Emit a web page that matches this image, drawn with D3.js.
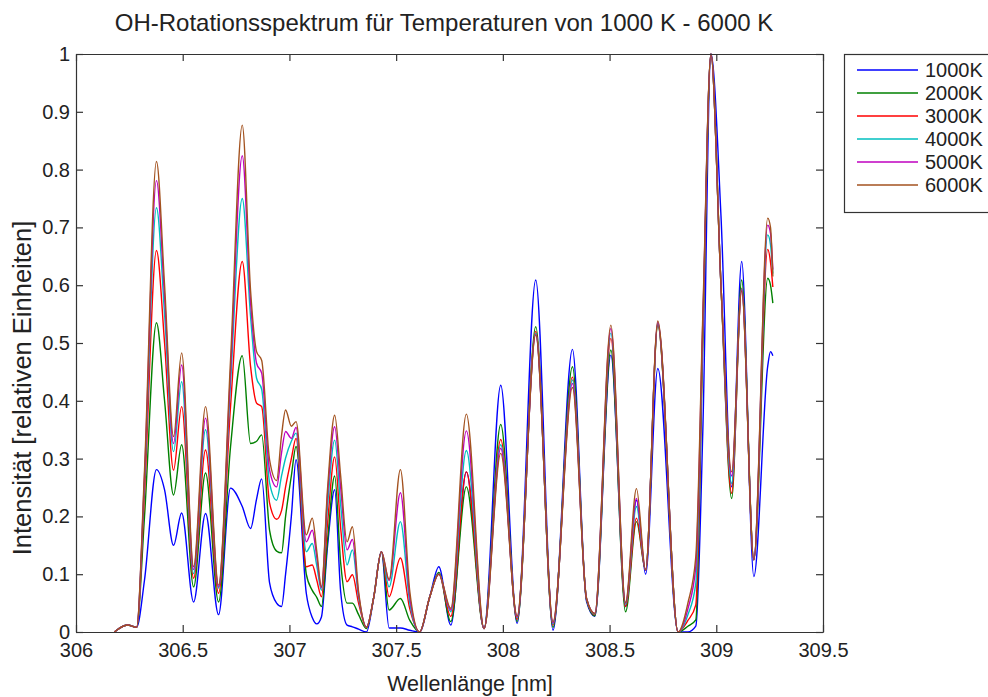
<!DOCTYPE html>
<html>
<head>
<meta charset="utf-8">
<script src="https://cdn.jsdelivr.net/npm/d3@7"></script>
<style>
  body { margin: 0; background: #fff; }
  text { font-family: "Liberation Sans", Arial, Helvetica, sans-serif; fill: #222; }
</style>
</head>
<body>
<div class="chart"></div>
<script>
// wavelength grid (nm) at peaks, valleys and flanks
var wavelengths = [306.180, 306.241, 306.284, 306.321, 306.377, 306.415, 306.457, 306.495, 306.551, 306.607,
  306.668, 306.724, 306.779, 306.818, 306.846, 306.870, 306.907, 306.940, 306.963, 306.982,
  307.009, 307.031, 307.079, 307.107, 307.128, 307.150, 307.179, 307.212, 307.240, 307.270,
  307.295, 307.324, 307.361, 307.395, 307.431, 307.467, 307.520, 307.564, 307.610, 307.657,
  307.700, 307.756, 307.829, 307.912, 307.990, 308.067, 308.154, 308.235, 308.326, 308.392,
  308.431, 308.506, 308.575, 308.626, 308.669, 308.726, 308.821, 308.867, 308.904, 308.937,
  308.975, 309.022, 309.072, 309.119, 309.176, 309.241, 309.254, 309.265];

var int1000 = [0, 0.012, 0.008, 0.09, 0.281, 0.246, 0.150, 0.206, 0.052, 0.205,
  0.030, 0.249, 0.217, 0.179, 0.23, 0.265, 0.085, 0.05, 0.044, 0.10,
  0.20, 0.298, 0.067, 0.025, 0.014, 0.026, 0.15, 0.246, 0.07, 0.012,
  0.009, 0.005, 0.0, 0.06, 0.139, 0.007, 0.007, 0.003, 0, 0.06,
  0.113, 0.012, 0.277, 0.006, 0.427, 0.015, 0.609, 0.003, 0.489, 0.053,
  0.027, 0.479, 0.044, 0.228, 0.100, 0.456, 0, 0, 0.01, 0.35,
  1, 0.72, 0.251, 0.641, 0.096, 0.46, 0.485, 0.478];

var int2000 = [0, 0.012, 0.008, 0.20, 0.535, 0.40, 0.237, 0.324, 0.078, 0.275,
  0.052, 0.32, 0.478, 0.326, 0.33, 0.341, 0.176, 0.14, 0.137, 0.20,
  0.27, 0.321, 0.10, 0.072, 0.06, 0.044, 0.16, 0.270, 0.12, 0.050,
  0.050, 0.03, 0.006, 0.06, 0.139, 0.038, 0.058, 0.02, 0, 0.06,
  0.103, 0.018, 0.251, 0.006, 0.359, 0.018, 0.528, 0.008, 0.459, 0.056,
  0.028, 0.488, 0.035, 0.191, 0.107, 0.530, 0, 0.01, 0.021, 0.50,
  1, 0.60, 0.231, 0.609, 0.125, 0.612, 0.60, 0.569];

var int3000 = [0, 0.012, 0.008, 0.24, 0.660, 0.50, 0.280, 0.390, 0.093, 0.315,
  0.067, 0.39, 0.641, 0.459, 0.396, 0.39, 0.223, 0.195, 0.21, 0.251,
  0.30, 0.335, 0.113, 0.116, 0.09, 0.061, 0.19, 0.303, 0.18, 0.087,
  0.099, 0.05, 0.008, 0.06, 0.139, 0.061, 0.128, 0.04, 0, 0.06,
  0.101, 0.027, 0.277, 0.006, 0.333, 0.022, 0.520, 0.012, 0.441, 0.058,
  0.030, 0.508, 0.044, 0.197, 0.107, 0.532, 0, 0.02, 0.047, 0.52,
  1, 0.60, 0.240, 0.595, 0.125, 0.662, 0.64, 0.597];

var int4000 = [0, 0.012, 0.008, 0.26, 0.734, 0.55, 0.312, 0.433, 0.101, 0.350,
  0.076, 0.43, 0.750, 0.545, 0.439, 0.42, 0.258, 0.228, 0.27, 0.301,
  0.33, 0.344, 0.139, 0.153, 0.115, 0.072, 0.22, 0.332, 0.22, 0.116,
  0.142, 0.06, 0.008, 0.06, 0.139, 0.078, 0.191, 0.05, 0, 0.06,
  0.101, 0.035, 0.314, 0.006, 0.324, 0.025, 0.517, 0.014, 0.436, 0.058,
  0.031, 0.517, 0.048, 0.217, 0.107, 0.534, 0, 0.03, 0.084, 0.53,
  1, 0.60, 0.257, 0.594, 0.125, 0.687, 0.67, 0.62];

var int5000 = [0, 0.012, 0.008, 0.27, 0.781, 0.58, 0.326, 0.462, 0.108, 0.370,
  0.078, 0.45, 0.824, 0.57, 0.465, 0.448, 0.28, 0.251, 0.31, 0.347,
  0.335, 0.354, 0.156, 0.176, 0.13, 0.076, 0.24, 0.355, 0.25, 0.142,
  0.160, 0.065, 0.008, 0.06, 0.139, 0.089, 0.241, 0.06, 0, 0.06,
  0.100, 0.038, 0.348, 0.006, 0.318, 0.026, 0.515, 0.016, 0.430, 0.058,
  0.032, 0.525, 0.050, 0.231, 0.107, 0.536, 0, 0.04, 0.113, 0.54,
  1, 0.60, 0.270, 0.592, 0.125, 0.704, 0.69, 0.627];

var int6000 = [0, 0.012, 0.008, 0.28, 0.814, 0.60, 0.338, 0.483, 0.113, 0.390,
  0.081, 0.47, 0.877, 0.59, 0.485, 0.47, 0.298, 0.262, 0.34, 0.384,
  0.356, 0.364, 0.168, 0.197, 0.14, 0.078, 0.25, 0.375, 0.27, 0.156,
  0.182, 0.07, 0.008, 0.06, 0.139, 0.091, 0.281, 0.07, 0, 0.06,
  0.100, 0.041, 0.377, 0.006, 0.309, 0.028, 0.514, 0.018, 0.423, 0.058,
  0.032, 0.531, 0.051, 0.248, 0.107, 0.538, 0, 0.05, 0.130, 0.55,
  1, 0.60, 0.277, 0.590, 0.125, 0.716, 0.70, 0.615];

var seriesNames = ["1000K", "2000K", "3000K", "4000K", "5000K", "6000K"];
var seriesColors = ["#0000ff", "#008000", "#ff0000", "#00bfbf", "#bf00bf", "#a3521f"];
var seriesValues = [int1000, int2000, int3000, int4000, int5000, int6000];

var xTicks = [306, 306.5, 307, 307.5, 308, 308.5, 309, 309.5];
var yTicks = [0, 0.1, 0.2, 0.3, 0.4, 0.5, 0.6, 0.7, 0.8, 0.9, 1];

var svgWidth = 988;
var svgHeight = 697;

var margin = {
  top: 54,
  bottom: 65,
  right: 165,
  left: 76
};

var width = svgWidth - margin.left - margin.right;
var height = svgHeight - margin.top - margin.bottom;

var svg = d3.select(".chart")
  .append("svg")
  .attr("width", svgWidth)
  .attr("height", svgHeight);

var chartGroup = svg.append("g")
  .attr("transform", `translate(${margin.left}, ${margin.top})`);

// scales
var xScale = d3.scaleLinear()
  .domain([306, 309.5])
  .range([0, width]);

var yScale = d3.scaleLinear()
  .domain([0, 1])
  .range([height, 0]);

var fmt = d3.format("~g");

// axes, ticks point inwards like matlab
var bottomAxis = d3.axisBottom(xScale).tickValues(xTicks).tickFormat(fmt)
  .tickSizeInner(-7).tickSizeOuter(0).tickPadding(11);
var leftAxis = d3.axisLeft(yScale).tickValues(yTicks).tickFormat(fmt)
  .tickSizeInner(-7).tickSizeOuter(0).tickPadding(6);
var topAxis = d3.axisTop(xScale).tickValues(xTicks).tickFormat("")
  .tickSizeInner(-7).tickSizeOuter(0);
var rightAxis = d3.axisRight(yScale).tickValues(yTicks).tickFormat("")
  .tickSizeInner(-7).tickSizeOuter(0);

// line generator
var line = d3.line()
  .x((d, i) => xScale(wavelengths[i]))
  .y(d => yScale(d))
  .curve(d3.curveMonotoneX);

var series = seriesNames.map((name, i) => ({ name: name, color: seriesColors[i], values: seriesValues[i] }));

chartGroup.selectAll(".series")
  .data(series)
  .enter()
  .append("path")
  .attr("class", "series")
  .attr("d", d => line(d.values))
  .attr("fill", "none")
  .attr("stroke", d => d.color)
  .attr("stroke-width", 1.4)
  .attr("stroke-linejoin", "round");

// append axes
var axes = [
  chartGroup.append("g").attr("transform", `translate(0, ${height})`).call(bottomAxis),
  chartGroup.append("g").call(leftAxis),
  chartGroup.append("g").call(topAxis),
  chartGroup.append("g").attr("transform", `translate(${width}, 0)`).call(rightAxis)
];

axes.forEach(function(g) {
  g.selectAll("path.domain").attr("stroke", "#333").attr("stroke-width", 1.2);
  g.selectAll(".tick line").attr("stroke", "#333").attr("stroke-width", 1.2);
  g.selectAll("text")
    .style("font-family", "'Liberation Sans', Arial, sans-serif")
    .style("font-size", "20px")
    .attr("fill", "#222");
});

// title
svg.append("text")
  .attr("x", 444)
  .attr("y", 31)
  .attr("text-anchor", "middle")
  .style("font-size", "24px")
  .text("OH-Rotationsspektrum für Temperaturen von 1000 K - 6000 K");

// x axis label
svg.append("text")
  .attr("x", 470)
  .attr("y", 691)
  .attr("text-anchor", "middle")
  .style("font-size", "21.5px")
  .text("Wellenlänge [nm]");

// y axis label
svg.append("text")
  .attr("transform", "rotate(-90)")
  .attr("x", -388)
  .attr("y", 31)
  .attr("text-anchor", "middle")
  .style("font-size", "25.5px")
  .text("Intensität [relativen Einheiten]");

// legend
var legend = svg.append("g")
  .attr("transform", "translate(844, 54)");

legend.append("rect")
  .attr("x", 0.5)
  .attr("y", 0.5)
  .attr("width", 160)
  .attr("height", 158)
  .attr("fill", "#fff")
  .attr("stroke", "#333")
  .attr("stroke-width", 1.2);

var legendItems = legend.selectAll(".item")
  .data(series)
  .enter()
  .append("g")
  .attr("class", "item")
  .attr("transform", (d, i) => `translate(0, ${16 + i * 23})`);

legendItems.append("line")
  .attr("x1", 13)
  .attr("x2", 74)
  .attr("stroke", d => d.color)
  .attr("stroke-width", 1.4);

legendItems.append("text")
  .attr("x", 81)
  .attr("dy", "0.36em")
  .style("font-size", "20px")
  .text(d => d.name);
</script>
</body>
</html>
